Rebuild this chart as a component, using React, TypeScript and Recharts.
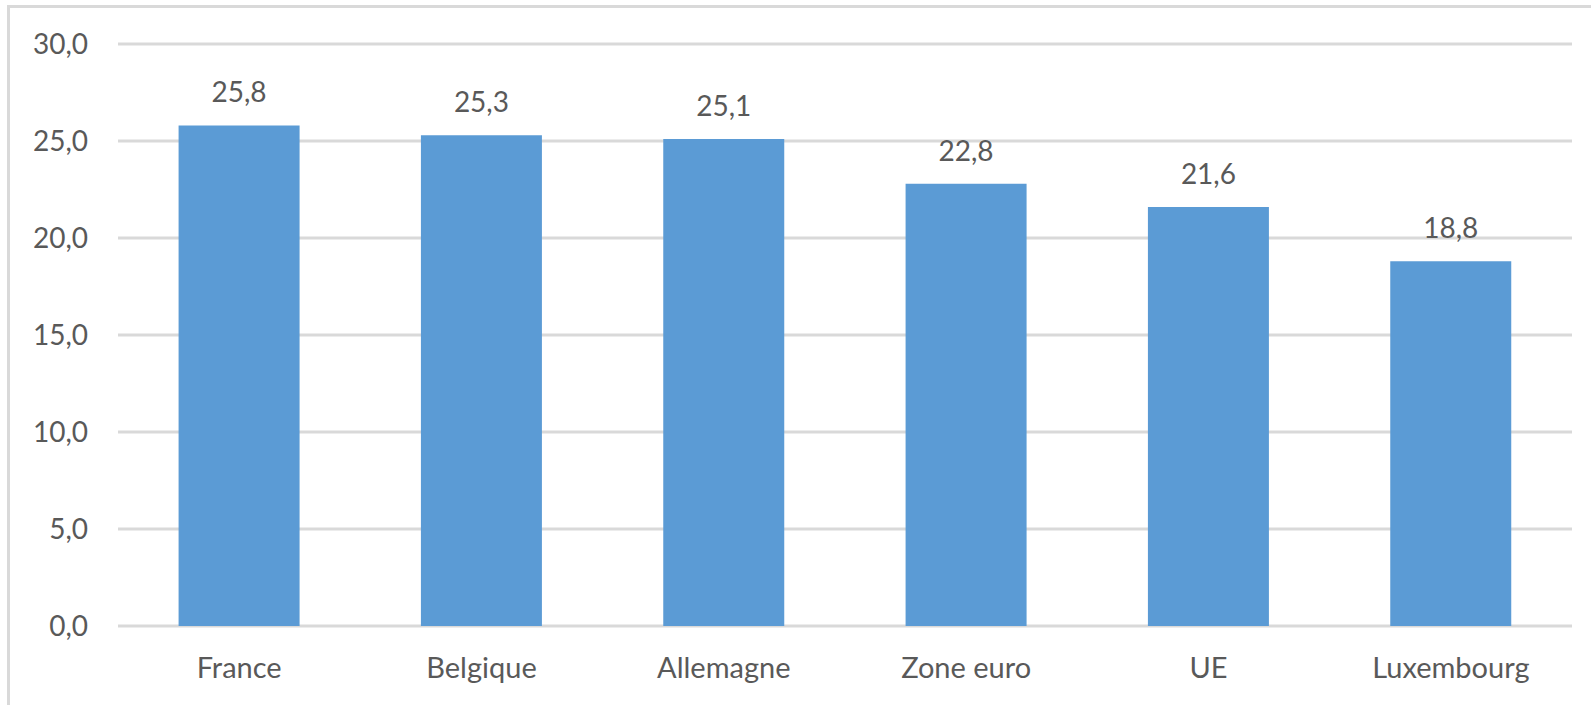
import { Bar, BarChart, CartesianGrid, LabelList, XAxis, YAxis } from "recharts";

const countries = ["France", "Belgique", "Allemagne", "Zone euro", "UE", "Luxembourg"];
const values = [25.8, 25.3, 25.1, 22.8, 21.6, 18.8];
const yTicks = [0, 5, 10, 15, 20, 25, 30];

const data = countries.map((name, i) => ({ name, value: values[i] }));

const TEXT = "#595959";
const GRID = "#d9d9d9";
const BLUE = "#5b9bd5";
const FONT = "Lato, 'Open Sans', sans-serif";

const fmt = (v: number) => v.toFixed(1).replace(".", ",");

export default function App() {
  return (
    <>
      <style>{"html,body{margin:0;overflow:hidden;background:#fff}"}</style>
      <div
        style={{
          position: "absolute",
          left: 7,
          top: 5,
          width: 1700,
          height: 800,
          border: `3px solid ${GRID}`,
        }}
      />
      <div style={{ position: "absolute", left: 0, top: 0 }}>
        <BarChart
          width={1591}
          height={705}
          data={data}
          margin={{ top: 44, right: 19, left: 0, bottom: 0 }}
          barCategoryGap="25%"
        >
          <CartesianGrid stroke={GRID} strokeWidth={3} vertical={false} />
          <XAxis
            dataKey="name"
            height={79}
            axisLine={false}
            tickLine={false}
            tickMargin={25}
            interval={0}
            tick={{ fontSize: 29, fill: TEXT, fontFamily: FONT }}
          />
          <YAxis
            width={118}
            domain={[0, 30]}
            ticks={yTicks}
            axisLine={false}
            tickLine={false}
            tickMargin={24}
            tickFormatter={fmt}
            tick={{ fontSize: 28, fill: TEXT, fontFamily: FONT }}
          />
          <Bar dataKey="value" fill={BLUE} isAnimationActive={false}>
            <LabelList
              dataKey="value"
              position="top"
              offset={23}
              formatter={(v: any) => fmt(Number(v))}
              style={{ fontSize: 28, fill: TEXT, fontFamily: FONT }}
            />
          </Bar>
        </BarChart>
      </div>
    </>
  );
}
